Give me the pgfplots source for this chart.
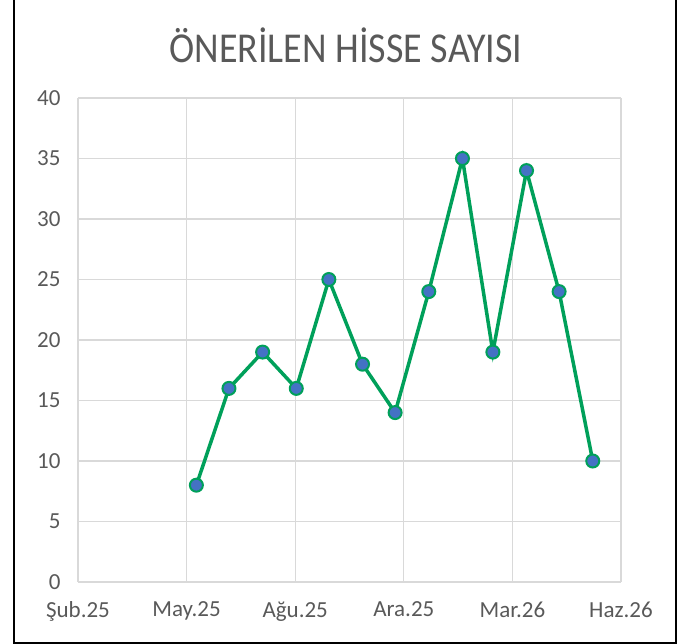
\documentclass[border=0pt]{standalone}
\usepackage{pgfplots}
\pgfplotsset{compat=1.18}
\usepackage{fontspec}
\setmainfont{Carlito}
\definecolor{txt}{HTML}{595959}
\definecolor{grd}{HTML}{D9D9D9}
\definecolor{lgreen}{RGB}{0,160,90}
\definecolor{mblue}{HTML}{4472C4}
\begin{document}
\begin{tikzpicture}[x=1pt,y=1pt]
\path[use as bounding box] (0,0) rectangle (686,644);
\draw[black,line width=2pt] (14,644) -- (14,1) -- (676,1) -- (676,644);
\node[text=txt,font=\fontsize{38}{40}\selectfont] at (346,599) {\scalebox{1}[1.12]{ÖNERİLEN HİSSE SAYISI}};
\begin{axis}[
  at={(78pt,62pt)}, anchor=south west,
  scale only axis, width=543pt, height=484pt,
  xmin=0, xmax=500, ymin=0, ymax=40,
  xtick={0,100,200,300,400,500},
  xticklabels={Şub.25,May.25,Ağu.25,Ara.25,Mar.26,Haz.26},
  ytick={0,5,...,40},
  grid=major,
  major grid style={grd, line width=1.3pt},
  axis line style={draw=none},
  tick style={draw=none},
  ticklabel style={text=txt, font=\fontsize{23}{26}\selectfont},
  /pgf/number format/assume math mode=true,
  yticklabel style={anchor=east, xshift=-14pt},
  xticklabel style={anchor=north, yshift=-16pt},
  clip=false,
]
\addplot[lgreen, line width=3.5pt, mark=*, mark size=6.5pt,
  mark options={fill=mblue, draw=lgreen, line width=2pt}]
  coordinates {
  (109,8) (139,16) (170,19) (201,16) (231,25) (262,18) (292,14)
  (323,24) (354,35) (382,19) (413,34) (443,24) (474,10)
  };
\end{axis}
\end{tikzpicture}
\end{document}
